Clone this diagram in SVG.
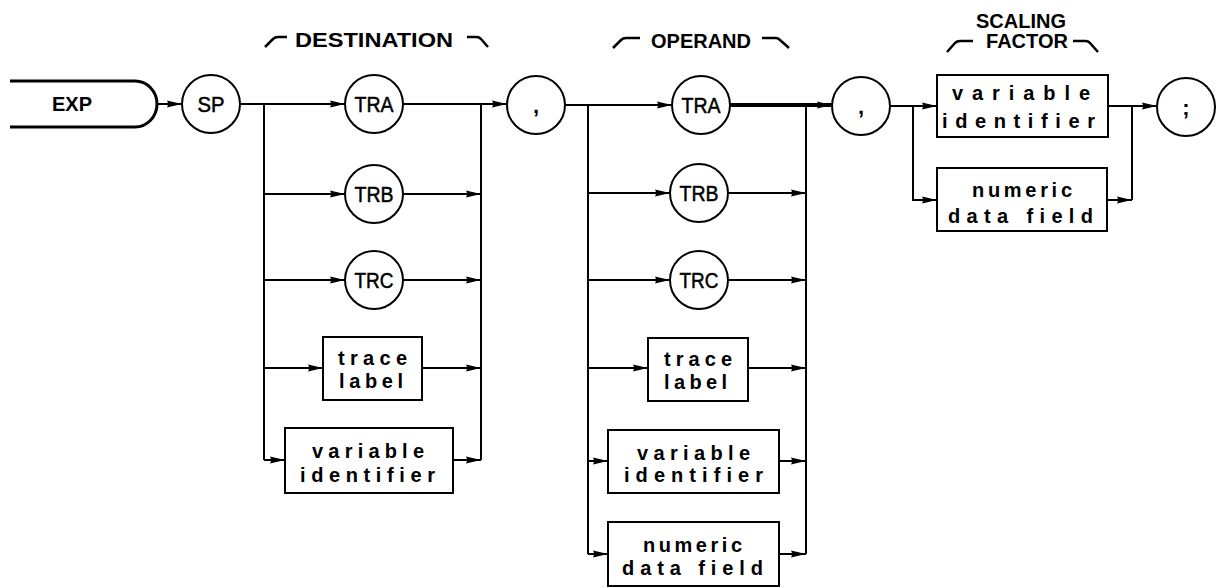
<svg xmlns="http://www.w3.org/2000/svg" width="1221" height="588" viewBox="0 0 1221 588">
<style>
.ln{fill:none;stroke:#000;stroke-width:2}
.thk{fill:none;stroke:#000;stroke-width:4}
.hk{fill:none;stroke:#000;stroke-width:2.5;stroke-linejoin:round}
.nd{fill:#fff;stroke:#000;stroke-width:2}
.t{font-family:"Liberation Sans",Arial,sans-serif;font-size:22px;text-anchor:middle;fill:#000;stroke:#000;stroke-width:0.5}
.b{font-family:"Liberation Sans",Arial,sans-serif;font-size:20px;font-weight:bold;fill:#000}
.h{font-family:"Liberation Sans",Arial,sans-serif;font-size:20px;font-weight:bold;text-anchor:middle;fill:#000}
.p{font-family:"Liberation Sans",Arial,sans-serif;font-size:22px;font-weight:bold;text-anchor:middle;fill:#000}
</style>
<defs>
<marker id="arr" viewBox="0 0 15 9" refX="15" refY="4.5" markerWidth="15" markerHeight="9" orient="auto" markerUnits="userSpaceOnUse">
<path d="M0,1 Q2,4.5 0,8 L15,4.5 z" fill="#000"/>
</marker>
</defs>

<g id="headers">
<path class="hk" d="M265,47 L273,39 Q275,37 278,37 H287"/>
<text class="h" x="295" y="47" textLength="158" lengthAdjust="spacingAndGlyphs" style="text-anchor:start">DESTINATION</text>
<path class="hk" d="M467,37 H477 Q479,37 481,39 L488,47"/>
<path class="hk" d="M613,48 L621,40 Q623,38 626,38 H640"/>
<text class="h" x="701" y="48">OPERAND</text>
<path class="hk" d="M762,38 H776 Q778,38 780,40 L789,48"/>
<text class="h" x="1021" y="28">SCALING</text>
<text class="h" x="1027" y="48">FACTOR</text>
<path class="hk" d="M947,52 L955,43 Q957,41 960,41 H973"/>
<path class="hk" d="M1073,41 H1086 Q1088,41 1090,43 L1098,52"/>
</g>

<g id="connectors">
<path class="ln" d="M157,104 H182" marker-end="url(#arr)"/>
<path class="ln" d="M240,104 H345" marker-end="url(#arr)"/>
<path class="ln" d="M264,104 V460"/>
<path class="ln" d="M264,194 H345" marker-end="url(#arr)"/>
<path class="ln" d="M264,280 H345" marker-end="url(#arr)"/>
<path class="ln" d="M264,368 H323" marker-end="url(#arr)"/>
<path class="ln" d="M264,460 H285" marker-end="url(#arr)"/>
<path class="ln" d="M403,104 H507" marker-end="url(#arr)"/>
<path class="ln" d="M481,104 V460"/>
<path class="ln" d="M403,194 H481" marker-end="url(#arr)"/>
<path class="ln" d="M403,280 H481" marker-end="url(#arr)"/>
<path class="ln" d="M422,368 H481" marker-end="url(#arr)"/>
<path class="ln" d="M453,460 H481" marker-end="url(#arr)"/>

<path class="ln" d="M565,105 H672" marker-end="url(#arr)"/>
<path class="ln" d="M588,105 V554"/>
<path class="ln" d="M588,193 H670" marker-end="url(#arr)"/>
<path class="ln" d="M588,280 H670" marker-end="url(#arr)"/>
<path class="ln" d="M588,368 H648" marker-end="url(#arr)"/>
<path class="ln" d="M588,461 H608" marker-end="url(#arr)"/>
<path class="ln" d="M588,554 H608" marker-end="url(#arr)"/>
<path class="thk" d="M730,105 H832" marker-end="url(#arr)"/>
<path class="ln" d="M806,105 V554"/>
<path class="ln" d="M728,193 H806" marker-end="url(#arr)"/>
<path class="ln" d="M728,280 H806" marker-end="url(#arr)"/>
<path class="ln" d="M748,368 H806" marker-end="url(#arr)"/>
<path class="ln" d="M779,461 H806" marker-end="url(#arr)"/>
<path class="ln" d="M779,554 H806" marker-end="url(#arr)"/>

<path class="ln" d="M890,106 H937" marker-end="url(#arr)"/>
<path class="ln" d="M913,106 V200 H937" marker-end="url(#arr)"/>
<path class="ln" d="M1108,106 H1157" marker-end="url(#arr)"/>
<path class="ln" d="M1132,106 V200"/>
<path class="ln" d="M1107,200 H1132" marker-end="url(#arr)"/>
</g>

<g id="exp">
<path d="M10,81 H135 A22,23 0 0 1 135,127 H10" fill="#fff" stroke="#000" stroke-width="3"/>
<text class="h" x="72" y="111">EXP</text>
</g>
<g id="sp"><circle class="nd" cx="211" cy="104" r="29"/><text class="t" x="211" y="112" textLength="27" lengthAdjust="spacingAndGlyphs">SP</text></g>

<g id="dest-tra"><circle class="nd" cx="374" cy="104" r="29"/><text class="t" x="374" y="112" textLength="39" lengthAdjust="spacingAndGlyphs">TRA</text></g>
<g id="dest-trb"><circle class="nd" cx="374" cy="194" r="29"/><text class="t" x="374" y="202" textLength="39" lengthAdjust="spacingAndGlyphs">TRB</text></g>
<g id="dest-trc"><circle class="nd" cx="374" cy="280" r="29"/><text class="t" x="374" y="288" textLength="39" lengthAdjust="spacingAndGlyphs">TRC</text></g>
<g id="dest-trace-label"><rect class="nd" x="323" y="337" width="99" height="63"/>
<text class="b" x="338" y="365" textLength="69" lengthAdjust="spacing">trace</text>
<text class="b" x="339" y="388" textLength="64" lengthAdjust="spacing">label</text></g>
<g id="dest-var-id"><rect class="nd" x="285" y="428" width="168" height="65"/>
<text class="b" x="312" y="458" textLength="112" lengthAdjust="spacing">variable</text>
<text class="b" x="300" y="482" textLength="135" lengthAdjust="spacing">identifier</text></g>

<g id="comma1"><circle class="nd" cx="536" cy="105" r="29"/><text class="p" x="536" y="113">,</text></g>

<g id="op-tra"><circle class="nd" cx="701" cy="105" r="29"/><text class="t" x="701" y="113" textLength="39" lengthAdjust="spacingAndGlyphs">TRA</text></g>
<g id="op-trb"><circle class="nd" cx="699" cy="193" r="29"/><text class="t" x="699" y="201" textLength="39" lengthAdjust="spacingAndGlyphs">TRB</text></g>
<g id="op-trc"><circle class="nd" cx="699" cy="280" r="29"/><text class="t" x="699" y="288" textLength="39" lengthAdjust="spacingAndGlyphs">TRC</text></g>
<g id="op-trace-label"><rect class="nd" x="648" y="338" width="100" height="63"/>
<text class="b" x="664" y="366" textLength="68" lengthAdjust="spacing">trace</text>
<text class="b" x="664" y="389" textLength="63" lengthAdjust="spacing">label</text></g>
<g id="op-var-id"><rect class="nd" x="608" y="430" width="171" height="63"/>
<text class="b" x="637" y="460" textLength="113" lengthAdjust="spacing">variable</text>
<text class="b" x="624" y="482" textLength="139" lengthAdjust="spacing">identifier</text></g>
<g id="op-numeric"><rect class="nd" x="608" y="522" width="171" height="64"/>
<text class="b" x="643" y="552" textLength="99" lengthAdjust="spacing">numeric</text>
<text class="b" x="622" y="575" textLength="141" lengthAdjust="spacing">data field</text></g>

<g id="comma2"><circle class="nd" cx="861" cy="106" r="29"/><text class="p" x="861" y="114">,</text></g>

<g id="sf-var-id"><rect class="nd" x="937" y="75" width="171" height="62"/>
<text class="b" x="952" y="100" textLength="138" lengthAdjust="spacing">variable</text>
<text class="b" x="942" y="128" textLength="153" lengthAdjust="spacing">identifier</text></g>
<g id="sf-numeric"><rect class="nd" x="937" y="168" width="170" height="63"/>
<text class="b" x="972" y="197" textLength="100" lengthAdjust="spacing">numeric</text>
<text class="b" x="948" y="223" textLength="145" lengthAdjust="spacing">data field</text></g>

<g id="semicolon"><circle class="nd" cx="1186" cy="107" r="29"/><text class="p" x="1186" y="115">;</text></g>
</svg>
